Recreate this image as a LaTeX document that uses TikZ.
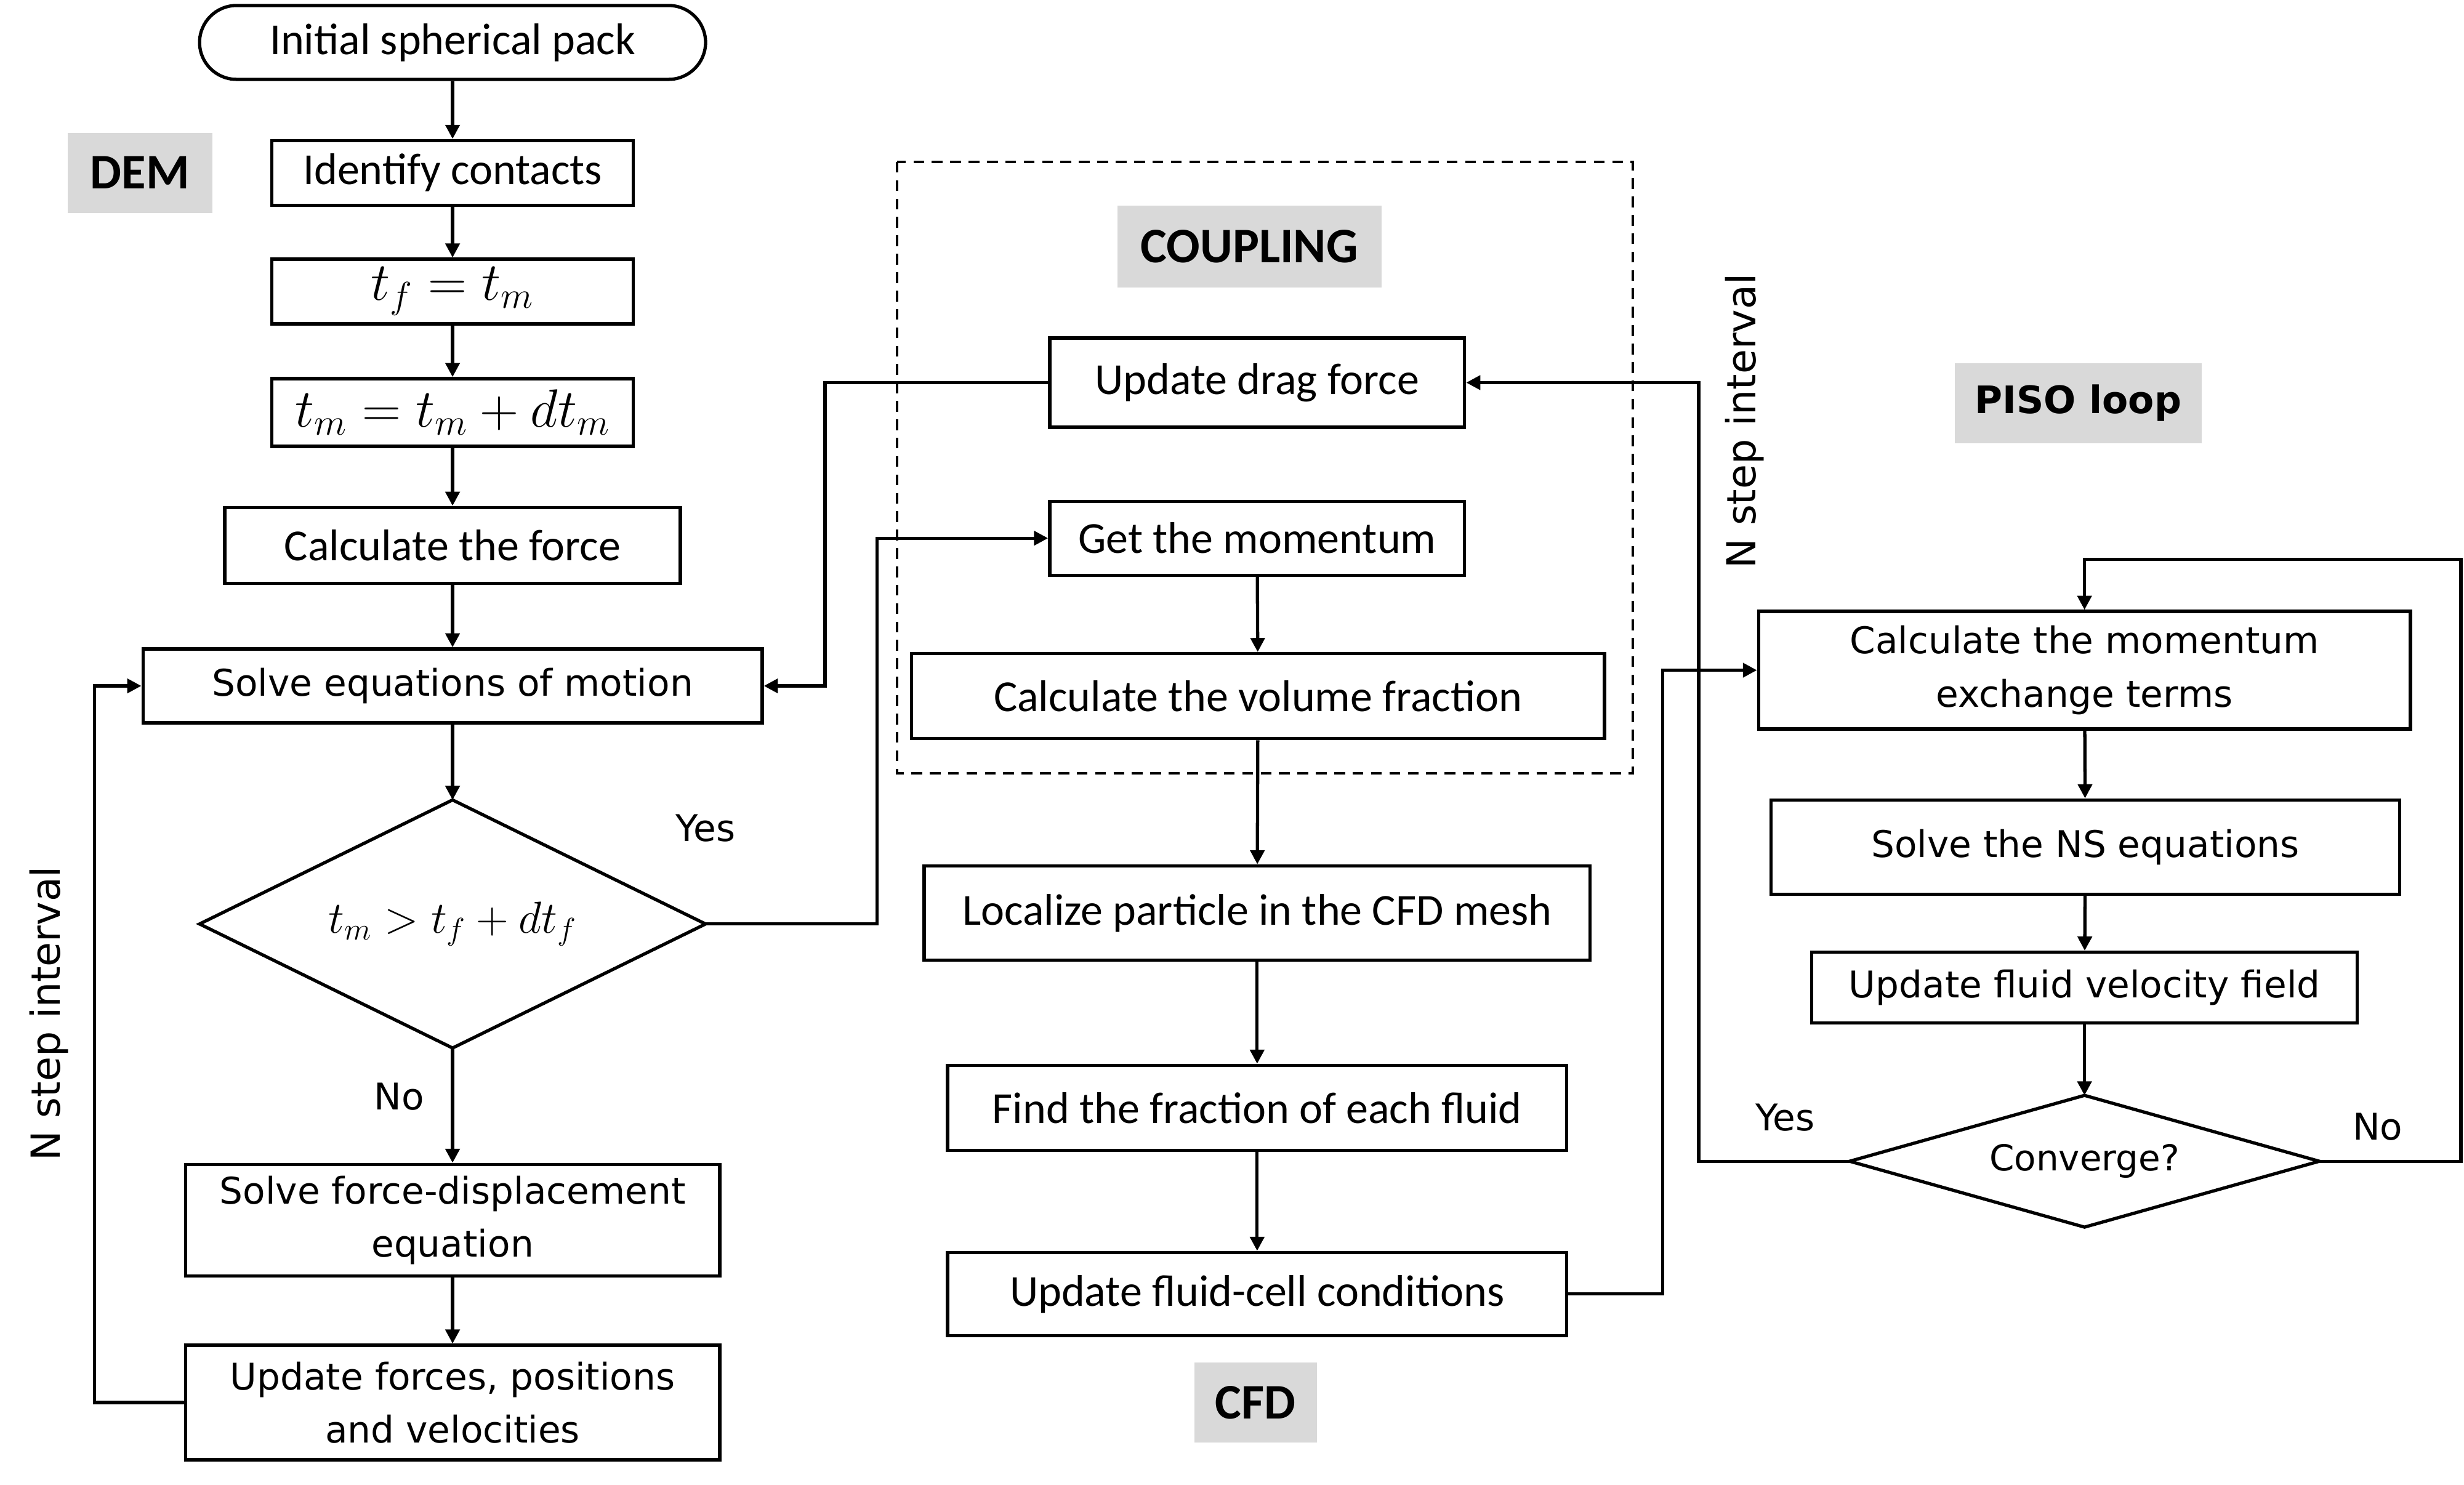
\documentclass[tikz,border=0pt]{standalone}
\usepackage{fontspec}
\setmainfont{Carlito}
\newfontfamily\vfont{DejaVu Sans}
\usepackage{tikz}
\usetikzlibrary{arrows.meta,shapes.geometric,positioning,calc}
\definecolor{tagGray}{RGB}{217,217,217}
\tikzset{
  procBox/.style 2 args={rectangle,draw,line width=1.5pt,align=center,inner sep=2pt,
                 minimum width=#1,minimum height=#2,font=\fontsize{20.5}{24}\selectfont},
  wideBox/.style 2 args={procBox={#1}{#2},font=\vfont\fontsize{17}{24.5}\selectfont},
  mathBox/.style 2 args={procBox={#1}{#2},font=\fontsize{23}{27}\selectfont},
  testShape/.style 2 args={diamond,draw,line width=1.5pt,inner sep=0pt,outer sep=0pt,
                 minimum width=#1,minimum height=#2,align=center},
  tagBox/.style 2 args={rectangle,fill=tagGray,minimum width=#1,minimum height=#2,
                 font=\bfseries\fontsize{23}{28}\selectfont},
  flowArrow/.style={-{Triangle[length=6.5pt,width=6.5pt]},line width=1.5pt},
  sideText/.style={font=\vfont\fontsize{17}{20}\selectfont},
}

\begin{document}
\begin{tikzpicture}[x=0.025523cm,y=-0.025523cm]
  \useasboundingbox (0,0) rectangle (1568,945);
  % DEM column
  \node[procBox={8.22cm}{1.2cm},rounded corners=0.6cm](start) at (288,27){Initial spherical pack};
  \node[tagBox={2.35cm}{1.3cm}](dem) at (89,110){DEM};
  \node[procBox={5.87cm}{1.05cm}](contacts) at (288,110){Identify contacts};
  \node[mathBox={5.87cm}{1.05cm}](tfset) at (288,185.5){$t_f = t_m$};
  \node[mathBox={5.87cm}{1.1cm}](tmadv) at (288,262.5){$t_m = t_m + dt_m$};
  \node[procBox={7.4cm}{1.23cm}](force) at (288,347){Calculate the force};
  \node[wideBox={10.06cm}{1.2cm}](motion) at (288,436.5){Solve equations of motion};
  \node[testShape={8.22cm}{4.03cm},aspect=2.04,font=\fontsize{22.5}{26}\selectfont](test) at (288,588){$t_m > t_f + dt_f$};
  \node[wideBox={8.68cm}{1.81cm}](fdisp) at (288,776.5){Solve force-displacement\\equation};
  \node[wideBox={8.68cm}{1.86cm}](update) at (288,892.5){Update forces, positions\\and velocities};
  \node[sideText](yesL) at (449,527){Yes};
  \node[sideText](noL) at (254,698){No};
  \node[sideText,rotate=90,font=\vfont\fontsize{18.5}{22}\selectfont](nstepL) at (31,645){N step interval};

  % coupling
  \draw[dashed,line width=1.2pt,dash pattern=on 5pt off 3.5pt] (571,103) rectangle (1039,492);
  \node[tagBox={4.29cm}{1.33cm}](coupling) at (795,157){COUPLING};
  \node[procBox={6.74cm}{1.45cm}](drag) at (800,243.5){Update drag force};
  \node[procBox={6.74cm}{1.2cm}](momentum) at (800,342.5){Get the momentum};
  \node[procBox={11.26cm}{1.38cm}](volfrac) at (800.5,443){Calculate the volume fraction};

  % CFD
  \node[procBox={10.82cm}{1.53cm}](localize) at (800,581){Localize particle in the CFD mesh};
  \node[procBox={10.06cm}{1.38cm}](fraction) at (800,705){Find the fraction of each fluid};
  \node[procBox={10.06cm}{1.35cm}](cellcond) at (800,823.5){Update fluid-cell conditions};
  \node[tagBox={1.99cm}{1.3cm}](cfd) at (799,892.5){CFD};

  % PISO loop
  \node[tagBox={4.01cm}{1.3cm},font=\vfont\bfseries\fontsize{17.5}{21}\selectfont](piso) at (1322.5,256.5){PISO loop};
  \node[wideBox={10.59cm}{1.91cm}](exchange) at (1326.5,426.5){Calculate the momentum\\exchange terms};
  \node[wideBox={10.21cm}{1.53cm}](nseq) at (1327,539){Solve the NS equations};
  \node[wideBox={8.86cm}{1.15cm}](velfield) at (1326.5,628.5){Update fluid velocity field};
  \node[testShape={7.63cm}{2.14cm},aspect=3.57,font=\vfont\fontsize{16.5}{20}\selectfont](conv) at (1326.5,739){Converge?};
  \node[sideText](yesR) at (1136,711){Yes};
  \node[sideText](noR) at (1513,717){No};
  \node[sideText,rotate=90,font=\vfont\fontsize{18.5}{22}\selectfont](nstepR) at (1110,268){N step interval};

  % straight arrows
  \foreach \x/\y in {start/contacts,contacts/tfset,tfset/tmadv,tmadv/force,force/motion,
                     motion/test,test/fdisp,fdisp/update,momentum/volfrac,volfrac/localize,
                     localize/fraction,fraction/cellcond,exchange/nseq,nseq/velfield,velfield/conv}{
    \draw[flowArrow](\x)--(\y);}

  % bent connectors
  \coordinate (dragBend) at (525,243.5);
  \coordinate (yesBend) at (558,588);
  \coordinate (cellBend) at (1058,823.5);
  \coordinate (convYes) at (1081,739);
  \coordinate (convNo) at (1566,739);
  \coordinate (convTop) at (1566,356);
  \coordinate (loopBend) at (60,892.5);
  \draw[flowArrow](drag.west)--(dragBend)|-(motion.east);
  \draw[flowArrow](test.east)--(yesBend)|-(momentum.west);
  \draw[flowArrow](cellcond.east)--(cellBend)|-(exchange.west);
  \draw[flowArrow](conv.west)--(convYes)|-(drag.east);
  \draw[flowArrow](conv.east)--(convNo)--(convTop)-|(exchange.north);
  \draw[flowArrow](update.west)--(loopBend)|-(motion.west);
\end{tikzpicture}
\end{document}
